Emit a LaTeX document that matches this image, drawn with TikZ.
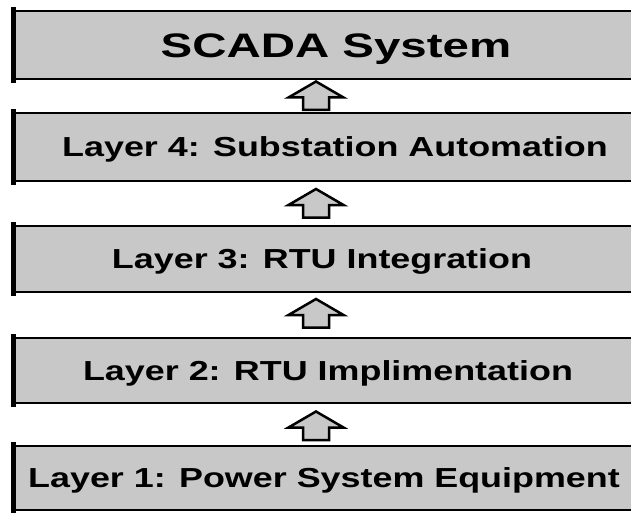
\documentclass[tikz,border=0pt]{standalone}
\usepackage{fontspec}
\setmainfont{Liberation Sans}
\usetikzlibrary{calc}
\definecolor{layergray}{RGB}{200,200,200}

% horizontally widened bold lettering
\newcommand{\widetext}[2]{\scalebox{#1}[1]{\bfseries #2}}

\tikzset{
  layerbox/.style={draw=black, line width=2.8pt, fill=layergray,
    minimum width=645pt, minimum height=#1, inner sep=0pt},
  layerfont/.style={font=\fontsize{27.5}{30}\selectfont, inner sep=0pt,
    text height=19.7pt, text depth=0pt},
  titlefont/.style={font=\fontsize{34}{38}\selectfont, inner sep=0pt,
    text height=24.3pt, text depth=0pt},
  leftedge/.style={line width=4.5pt, line cap=rect},
  blockup/.pic={
    \draw[line width=2.5pt, fill=layergray, line join=miter]
      (0,-14.5) -- (27.5,1.5) -- (13,1.5) -- (13,14) -- (-13,14)
      -- (-13,1.5) -- (-27.5,1.5) -- cycle;
  }
}

\begin{document}
\begin{tikzpicture}[x=1pt, y=-1pt]
  \fill[white] (0,0) rectangle (631,513);
  \useasboundingbox (0,0) rectangle (631,513);
  \clip (0,0) rectangle (631,513);

  % stacked layers, top to bottom
  \node[layerbox=68pt] (scada) at (337.5,45) {};
  \node[layerbox=68pt] (l4) at (337.5,147) {};
  \node[layerbox=66pt] (l3) at (337.5,259) {};
  \node[layerbox=65pt] (l2) at (337.5,370.5) {};
  \node[layerbox=64pt] (l1) at (337.5,478) {};

  % heavier left border on every layer
  \foreach \n in {scada,l4,l3,l2,l1}
    \draw[leftedge] (\n.north west) -- (\n.south west);

  % layer captions
  \node[titlefont] (scadat) at ([xshift=-1.5pt]scada.center)
    {\widetext{1.395}{SCADA System}};
  \node[layerfont] (l4t) at ([xshift=-2.5pt]l4.center)
    {\widetext{1.305}{Layer 4: Substation Automation}};
  \node[layerfont] (l3t) at ([xshift=-15.5pt]l3.center)
    {\widetext{1.305}{Layer 3: RTU Integration}};
  \node[layerfont] (l2t) at ([xshift=-9.5pt]l2.center)
    {\widetext{1.305}{Layer 2: RTU Implimentation}};
  \node[layerfont] (l1t) at ([xshift=-13.5pt]l1.center)
    {\widetext{1.305}{Layer 1: Power System Equipment}};

  % hollow block arrows pointing up between consecutive layers
  \pic at ($(l4.north)!0.5!(scada.south)+(-21.5,0)$) {blockup};
  \pic at ($(l3.north)!0.5!(l4.south)+(-21.5,0)$) {blockup};
  \pic at ($(l2.north)!0.5!(l3.south)+(-21.5,-1.5)$) {blockup};
  \pic at ($(l1.north)!0.5!(l2.south)+(-21.5,1.5)$) {blockup};
\end{tikzpicture}
\end{document}
